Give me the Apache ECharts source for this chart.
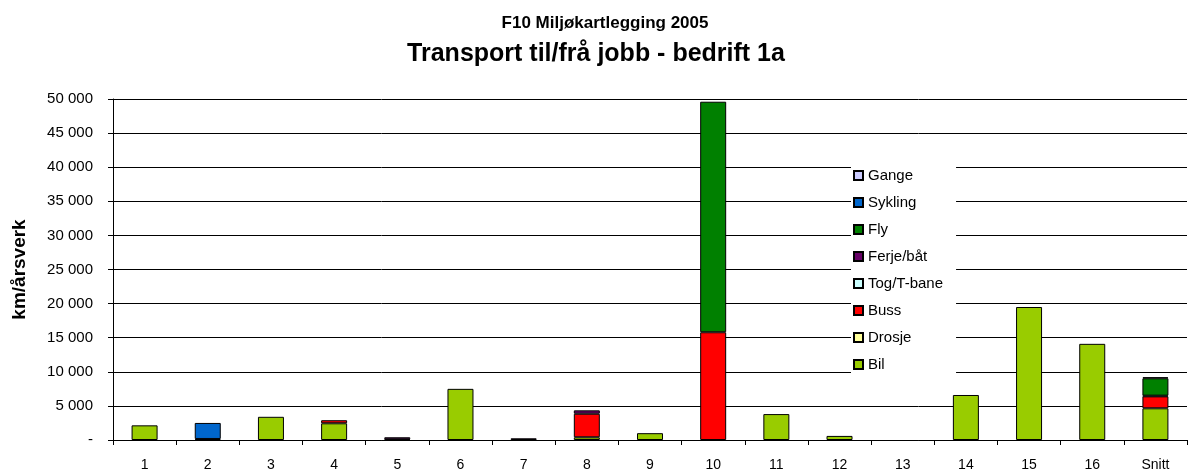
<!DOCTYPE html>
<html>
<head>
<meta charset="utf-8">
<script src="https://cdn.jsdelivr.net/npm/echarts@6/dist/echarts.min.js"></script>
<style>
  html, body { margin: 0; padding: 0; background: #fff; }
  #chart { width: 1188px; height: 472px; }
</style>
</head>
<body>
<div id="chart"></div>
<script>
// categories
const categories = ['1', '2', '3', '4', '5', '6', '7', '8', '9', '10', '11', '12', '13', '14', '15', '16', 'Snitt'];

// km/årsverk per transport type
const bil      = [2150, 150, 3400, 2450, 100, 7500, 0, 400, 1000, 0, 3800, 600, 0, 6600, 19500, 14100, 4650];
const drosje   = [0, 0, 0, 0, 0, 0, 0, 0, 0, 0, 0, 0, 0, 0, 0, 0, 0];
const buss     = [0, 0, 0, 450, 0, 0, 0, 3450, 0, 15800, 0, 0, 0, 0, 0, 0, 1750];
const togTbane = [0, 0, 0, 0, 0, 0, 0, 0, 0, 0, 0, 0, 0, 0, 0, 0, 0];
const ferjeBat = [0, 0, 0, 0, 300, 0, 250, 500, 0, 0, 0, 0, 0, 0, 0, 0, 100];
const fly      = [0, 0, 0, 0, 0, 0, 0, 0, 0, 33800, 0, 0, 0, 0, 0, 0, 2550];
const sykling  = [0, 2350, 0, 0, 0, 0, 0, 0, 0, 0, 0, 0, 0, 0, 0, 0, 150];
const gange    = [0, 0, 0, 0, 0, 0, 0, 0, 0, 0, 0, 0, 0, 0, 0, 0, 0];

const yTicks = { min: 0, max: 50000, interval: 5000 };

const FONT = '"Liberation Sans", Arial, sans-serif';

function fmt(v) {
    if (v === 0) return '-';
    return String(v).replace(/\B(?=(\d{3})+(?!\d))/g, ' ');
}

let stack = [
    { name: 'Bil', data: bil, color: '#99CC00' },
    { name: 'Drosje', data: drosje, color: '#FFFF99' },
    { name: 'Buss', data: buss, color: '#FF0000' },
    { name: 'Tog/T-bane', data: togTbane, color: '#CCFFFF' },
    { name: 'Ferje/båt', data: ferjeBat, color: '#660066' },
    { name: 'Fly', data: fly, color: '#008000' },
    { name: 'Sykling', data: sykling, color: '#0066CC' },
    { name: 'Gange', data: gange, color: '#CCCCFF' }
];

let series = stack.map(s => ({
    name: s.name,
    type: 'bar',
    stack: 'total',
    barWidth: 26,
    data: s.data.map(v => (v === 0 ? null : v)),
    itemStyle: { color: s.color, borderColor: '#000', borderWidth: 1 }
}));

let chart = echarts.init(document.getElementById('chart'), null, { renderer: 'canvas' });

chart.setOption({
    animation: false,
    textStyle: { fontFamily: FONT },
    title: [
        {
            text: 'F10 Miljøkartlegging 2005',
            left: 600, top: 10, textAlign: 'center',
            textStyle: { fontSize: 17, fontWeight: 'bold', color: '#000', fontFamily: FONT }
        },
        {
            text: 'Transport til/frå jobb - bedrift 1a',
            left: 591, top: 37, textAlign: 'center',
            textStyle: { fontSize: 25, fontWeight: 'bold', color: '#000', fontFamily: FONT }
        }
    ],
    legend: {
        orient: 'vertical',
        left: 851, top: 162,
        data: ['Gange', 'Sykling', 'Fly', 'Ferje/båt', 'Tog/T-bane', 'Buss', 'Drosje', 'Bil'],
        itemWidth: 9, itemHeight: 9,
        itemGap: 10,
        icon: 'rect',
        padding: [5, 13, 6, 2],
        backgroundColor: '#fff',
        textStyle: { fontSize: 15, color: '#000', lineHeight: 17, fontFamily: FONT }
    },
    grid: { left: 113, right: 1, top: 99, bottom: 32, containLabel: false },
    xAxis: {
        type: 'category',
        data: categories,
        axisLine: { lineStyle: { color: '#000', width: 1 } },
        axisTick: { show: true, length: 5, lineStyle: { color: '#000' } },
        axisLabel: { color: '#000', fontSize: 14, margin: 18, fontFamily: FONT }
    },
    yAxis: {
        type: 'value',
        min: yTicks.min, max: yTicks.max, interval: yTicks.interval,
        name: 'km/årsverk',
        nameLocation: 'middle',
        nameGap: 84,
        nameTextStyle: { fontSize: 19, fontWeight: 'bold', color: '#000', fontFamily: FONT },
        axisLine: { show: true, lineStyle: { color: '#000' } },
        axisTick: { show: true, length: 5, lineStyle: { color: '#000' } },
        axisLabel: { color: '#000', fontSize: 15, margin: 20, formatter: fmt, fontFamily: FONT },
        splitLine: { show: true, lineStyle: { color: '#000', width: 1 } }
    },
    series: series
});
</script>
</body>
</html>
